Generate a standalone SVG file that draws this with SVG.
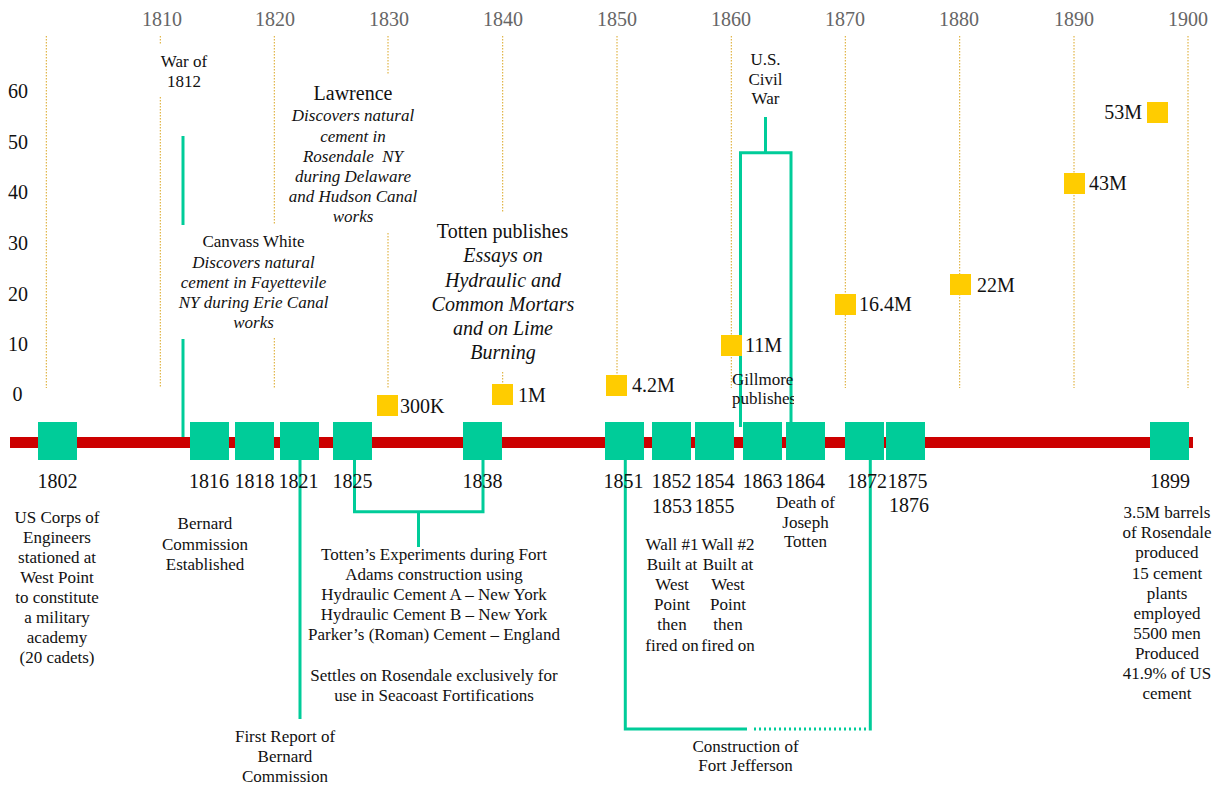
<svg xmlns="http://www.w3.org/2000/svg" width="1221" height="785" viewBox="0 0 1221 785">
<style>
.t{font-family:"Liberation Serif","Times New Roman",serif;fill:#111}
.s17{font-size:17px}
.s20{font-size:20px}
.i{font-style:italic}
.m{text-anchor:middle}
.e{text-anchor:end}
.ax{font-family:"Liberation Serif","Times New Roman",serif;font-size:20px;fill:#666}
.grid{stroke:#DAA520;stroke-width:1;stroke-dasharray:1.5 1.5;fill:none}
.conn{stroke:#00CC99;stroke-width:3;fill:none}
.dot{stroke:#00CC99;stroke-width:3;fill:none;stroke-dasharray:2 3}
.ev{fill:#00CC99}
.val{fill:#FFCC00}
</style>
<defs>
<clipPath id="gclip"><rect x="700" y="360" width="94" height="60"/></clipPath>
</defs>
<rect width="1221" height="785" fill="#fff"/>
<g id="axis">
<g class="ax m">
<text x="162" y="26">1810</text>
<text x="275" y="26">1820</text>
<text x="389" y="26">1830</text>
<text x="503" y="26">1840</text>
<text x="617" y="26">1850</text>
<text x="731" y="26">1860</text>
<text x="845" y="26">1870</text>
<text x="959" y="26">1880</text>
<text x="1074" y="26">1890</text>
<text x="1188" y="26">1900</text>
</g>
<g class="t s20">
<text x="8" y="98">60</text>
<text x="8" y="148.5">50</text>
<text x="8" y="199">40</text>
<text x="8" y="250">30</text>
<text x="8" y="300.5">20</text>
<text x="8" y="351">10</text>
<text x="12.5" y="401">0</text>
</g>
<g class="grid">
<line x1="46.3" y1="36" x2="46.3" y2="388"/>
<line x1="160.3" y1="36" x2="160.3" y2="44"/>
<line x1="160.3" y1="97" x2="160.3" y2="388"/>
<line x1="274.3" y1="36" x2="274.3" y2="225"/>
<line x1="274.3" y1="338" x2="274.3" y2="388"/>
<line x1="388" y1="36" x2="388" y2="75"/>
<line x1="388" y1="233" x2="388" y2="388"/>
<line x1="502.7" y1="36" x2="502.7" y2="212"/>
<line x1="502.7" y1="372" x2="502.7" y2="388"/>
<line x1="617" y1="36" x2="617" y2="388"/>
<line x1="731.3" y1="36" x2="731.3" y2="388"/>
<line x1="845.3" y1="36" x2="845.3" y2="388"/>
<line x1="959.7" y1="36" x2="959.7" y2="388"/>
<line x1="1074" y1="36" x2="1074" y2="388"/>
<line x1="1188" y1="36" x2="1188" y2="388"/>
</g>
</g>
<rect id="timeline" x="10" y="437" width="1183" height="11" fill="#CC0000"/>
<g id="connectors">
<line class="conn" x1="183" y1="136" x2="183" y2="225"/>
<line class="conn" x1="183" y1="339" x2="183" y2="437"/>
<line class="conn" x1="300" y1="460" x2="300" y2="719"/>
<polyline class="conn" points="354.5,460 354.5,511.7 483,511.7 483,460"/>
<line class="conn" x1="418.5" y1="511.7" x2="418.5" y2="547"/>
<line class="conn" x1="765.5" y1="117" x2="765.5" y2="152.7"/>
<polyline class="conn" points="740.5,427 740.5,152.7 791,152.7 791,422"/>
<polyline class="conn" points="625.3,460 625.3,729 747,729"/>
<line class="dot" x1="754" y1="729" x2="869" y2="729"/>
<line class="conn" x1="870.3" y1="730.5" x2="870.3" y2="460"/>
</g>
<g id="values">
<g id="v300K"><rect class="val" x="377" y="395" width="21" height="21"/><text class="t s20" x="400" y="413">300K</text></g>
<g id="v1M"><rect class="val" x="492" y="384" width="21" height="21"/><text class="t s20" x="518" y="402">1M</text></g>
<g id="v4_2M"><rect class="val" x="606" y="375" width="21" height="21"/><text class="t s20" x="632" y="392">4.2M</text></g>
<g id="v11M"><rect class="val" x="721" y="335" width="21" height="21"/><text class="t s20" x="745" y="352">11M</text></g>
<g id="v16_4M"><rect class="val" x="835" y="294" width="21" height="21"/><text class="t s20" x="859" y="311">16.4M</text></g>
<g id="v22M"><rect class="val" x="950" y="274" width="21" height="21"/><text class="t s20" x="977" y="292">22M</text></g>
<g id="v43M"><rect class="val" x="1064" y="173" width="21" height="21"/><text class="t s20" x="1089" y="190">43M</text></g>
<g id="v53M"><rect class="val" x="1147" y="102" width="21" height="21"/><text class="t s20 e" x="1142" y="119">53M</text></g>
</g>
<g id="ev1802"><rect class="ev" x="38" y="422" width="39" height="38"/><text class="t s20 m" x="57.5" y="488">1802</text>
<text class="t s17 m"><tspan x="57" y="523">US Corps of</tspan><tspan x="57" y="543">Engineers</tspan><tspan x="57" y="563">stationed at</tspan><tspan x="57" y="583">West Point</tspan><tspan x="57" y="603">to constitute</tspan><tspan x="57" y="623">a military</tspan><tspan x="57" y="643">academy</tspan><tspan x="57" y="663">(20 cadets)</tspan></text></g>
<g id="ev1816"><rect class="ev" x="190" y="422" width="39" height="38"/><text class="t s20 m" x="209" y="488">1816</text>
<text class="t s17 m"><tspan x="205" y="529">Bernard</tspan><tspan x="205" y="550">Commission</tspan><tspan x="205" y="570">Established</tspan></text></g>
<g id="ev1818"><rect class="ev" x="235" y="422" width="39" height="38"/><text class="t s20 m" x="254.5" y="488">1818</text></g>
<g id="ev1821"><rect class="ev" x="280" y="422" width="39" height="38"/><text class="t s20 m" x="298.5" y="488">1821</text>
<text class="t s17 m"><tspan x="285" y="742">First Report of</tspan><tspan x="285" y="762">Bernard</tspan><tspan x="285" y="782">Commission</tspan></text></g>
<g id="ev1825"><rect class="ev" x="333" y="422" width="39" height="38"/><text class="t s20 m" x="352.5" y="488">1825</text></g>
<g id="ev1838"><rect class="ev" x="463" y="422" width="39" height="38"/><text class="t s20 m" x="482.5" y="488">1838</text></g>
<g id="experiments"><text class="t s17 m"><tspan x="434" y="560">Totten’s Experiments during Fort</tspan><tspan x="434" y="580">Adams construction using</tspan><tspan x="434" y="600">Hydraulic Cement A – New York</tspan><tspan x="434" y="620">Hydraulic Cement B – New York</tspan><tspan x="434" y="640">Parker’s (Roman) Cement – England</tspan><tspan x="434" y="681">Settles on Rosendale exclusively for</tspan><tspan x="434" y="701">use in Seacoast Fortifications</tspan></text></g>
<g id="ev1851"><rect class="ev" x="605" y="422" width="39" height="38"/><text class="t s20 m" x="623.5" y="488">1851</text></g>
<g id="ev1852"><rect class="ev" x="652" y="422" width="39" height="38"/><text class="t s20 m"><tspan x="671.5" y="488">1852</tspan><tspan x="672" y="513">1853</tspan></text>
<text class="t s17 m"><tspan x="672" y="550">Wall #1</tspan><tspan x="672" y="570">Built at</tspan><tspan x="672" y="590">West</tspan><tspan x="672" y="610">Point</tspan><tspan x="672" y="630">then</tspan><tspan x="672" y="651">fired on</tspan></text></g>
<g id="ev1854"><rect class="ev" x="695" y="422" width="39" height="38"/><text class="t s20 m"><tspan x="714.5" y="488">1854</tspan><tspan x="714.5" y="513">1855</tspan></text>
<text class="t s17 m"><tspan x="728" y="550">Wall #2</tspan><tspan x="728" y="570">Built at</tspan><tspan x="728" y="590">West</tspan><tspan x="728" y="610">Point</tspan><tspan x="728" y="630">then</tspan><tspan x="728" y="651">fired on</tspan></text></g>
<g id="ev1863"><rect class="ev" x="743" y="422" width="39" height="38"/><text class="t s20 m" x="762.5" y="488">1863</text></g>
<g id="ev1864"><rect class="ev" x="786" y="422" width="39" height="38"/><text class="t s20 m" x="805" y="488">1864</text>
<text class="t s17 m"><tspan x="805.5" y="508">Death of</tspan><tspan x="805.5" y="528">Joseph</tspan><tspan x="805.5" y="547">Totten</tspan></text></g>
<g id="ev1872"><rect class="ev" x="845" y="422" width="39" height="38"/><text class="t s20 m" x="867" y="488">1872</text></g>
<g id="ev1875"><rect class="ev" x="886" y="422" width="39" height="38"/><text class="t s20 m"><tspan x="907.5" y="488">1875</tspan><tspan x="909" y="512">1876</tspan></text></g>
<g id="ev1899"><rect class="ev" x="1150" y="422" width="39" height="38"/><text class="t s20 m" x="1170" y="488">1899</text>
<text class="t s17 m"><tspan x="1167" y="518">3.5M barrels</tspan><tspan x="1167" y="538">of Rosendale</tspan><tspan x="1167" y="558">produced</tspan><tspan x="1167" y="579">15 cement</tspan><tspan x="1167" y="599">plants</tspan><tspan x="1167" y="619">employed</tspan><tspan x="1167" y="639">5500 men</tspan><tspan x="1167" y="659">Produced</tspan><tspan x="1167" y="679">41.9% of US</tspan><tspan x="1167" y="699">cement</tspan></text></g>
<g id="fortjefferson"><text class="t s17 m"><tspan x="745.5" y="752">Construction of</tspan><tspan x="745.5" y="771">Fort Jefferson</tspan></text></g>
<g id="war1812"><text class="t s17 m"><tspan x="184" y="67">War of</tspan><tspan x="184" y="87">1812</tspan></text></g>
<g id="lawrence"><text class="t s20 m" x="353" y="100">Lawrence</text>
<text class="t s17 m i"><tspan x="353" y="121">Discovers natural</tspan><tspan x="353" y="142">cement in</tspan><tspan x="353" y="162">Rosendale&#160; NY</tspan><tspan x="353" y="182">during Delaware</tspan><tspan x="353" y="202">and Hudson Canal</tspan><tspan x="353" y="222">works</tspan></text></g>
<g id="canvass"><text class="t s17 m" x="253.5" y="247">Canvass White</text>
<text class="t s17 m i"><tspan x="253.5" y="268">Discovers natural</tspan><tspan x="253.5" y="288">cement in Fayettevile</tspan><tspan x="253.5" y="308">NY during Erie Canal</tspan><tspan x="253.5" y="328">works</tspan></text></g>
<g id="civilwar"><text class="t s17 m"><tspan x="765.5" y="65">U.S.</tspan><tspan x="765.5" y="85">Civil</tspan><tspan x="765.5" y="104">War</tspan></text></g>
<g id="tottenpub"><text class="t s20 m" x="502.5" y="238">Totten publishes</text>
<text class="t s20 m i"><tspan x="503" y="262">Essays on</tspan><tspan x="503" y="286.5">Hydraulic and</tspan><tspan x="503" y="311">Common Mortars</tspan><tspan x="503" y="335">and on Lime</tspan><tspan x="503" y="359">Burning</tspan></text></g>
<g id="gillmore" clip-path="url(#gclip)"><text class="t s17"><tspan x="732" y="385">Gillmore</tspan><tspan x="732" y="404">publishes</tspan></text></g>
</svg>
